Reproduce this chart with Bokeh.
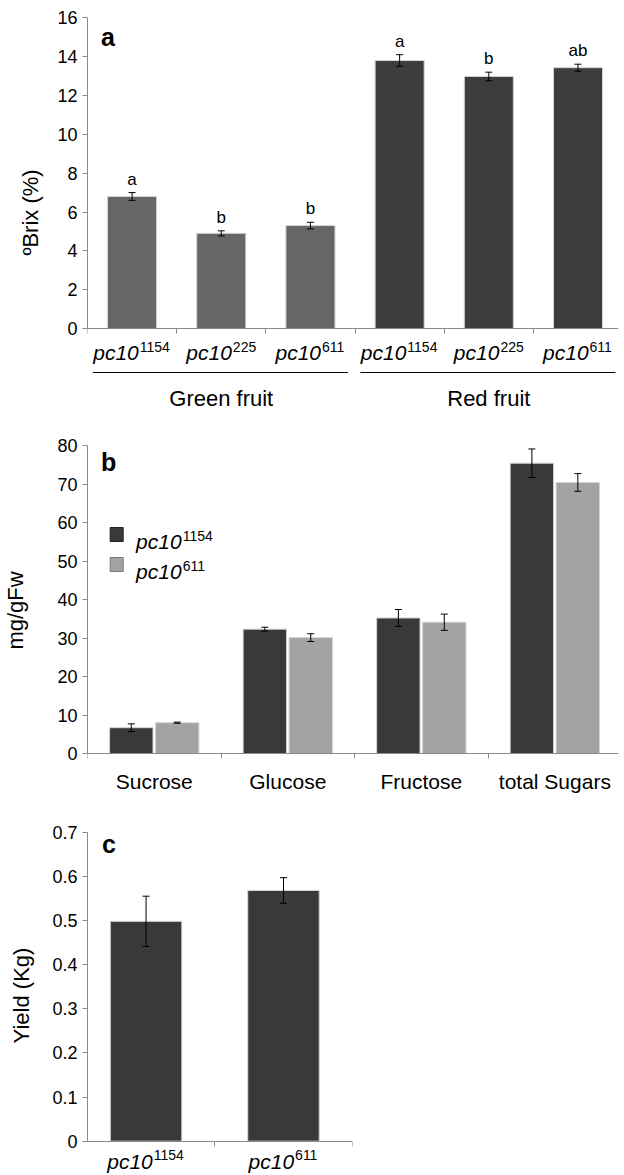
from bokeh.plotting import figure
from bokeh.models import ColumnDataSource, FixedTicker, LinearAxis, Range1d, Whisker, TeeHead
from bokeh.layouts import column
from bokeh.embed import file_html
from bokeh.resources import INLINE
from bokeh.core.properties import value

# ---------------- data ----------------
gene = "pc10"

brix_groups = ["Green fruit", "Red fruit"]
brix_alleles = ["1154", "225", "611", "1154", "225", "611"]
brix_group_index = [0, 0, 0, 1, 1, 1]
brix_values = [6.8, 4.9, 5.3, 13.8, 12.98, 13.43]
brix_errors = [0.2, 0.13, 0.17, 0.3, 0.22, 0.18]
brix_letters = ["a", "b", "b", "a", "b", "ab"]
brix_ticks = [0, 2, 4, 6, 8, 10, 12, 14, 16]

sugar_names = ["Sucrose", "Glucose", "Fructose", "total Sugars"]
sugar_1154 = [6.7, 32.3, 35.2, 75.4]
sugar_1154_err = [1.0, 0.5, 2.2, 3.7]
sugar_611 = [8.0, 30.1, 34.1, 70.4]
sugar_611_err = [0.15, 1.0, 2.1, 2.3]
sugar_ticks = [0, 10, 20, 30, 40, 50, 60, 70, 80]
legend_alleles = ["1154", "611"]

yield_alleles = ["1154", "611"]
yield_values = [0.498, 0.568]
yield_errors = [0.057, 0.029]
yield_ticks = [0, 0.1, 0.2, 0.3, 0.4, 0.5, 0.6, 0.7]
yield_tick_labels = ["0", "0.1", "0.2", "0.3", "0.4", "0.5", "0.6", "0.7"]

# ---------------- style ----------------
FONT = "Liberation Sans"
GRAY = "#8a8a8a"
EDGE = "#d4d4d4"
GREEN_FRUIT = "#666666"
RED_FRUIT = "#3d3d3d"
DARK = "#393939"
LIGHT = "#a3a3a3"
CAT_F = 21
SUP_F = 14
SUP_RISE = 6


def make_fig(width, height, xr, yr, left, top, right=0):
    p = figure(width=width, height=height, x_range=Range1d(*xr), y_range=Range1d(*yr),
               output_backend="svg", toolbar_location=None,
               x_axis_location=None, y_axis_location=None,
               min_border_left=left, min_border_top=top, min_border_right=right,
               min_border_bottom=0, background_fill_color="white",
               border_fill_color="white")
    p.outline_line_color = None
    p.xgrid.visible = False
    p.ygrid.visible = False
    return p


def add_yaxis(p, ticks, top, label, standoff, overrides=None):
    ax = LinearAxis(ticker=FixedTicker(ticks=ticks), bounds=(0, top), axis_label=label,
                    axis_label_standoff=standoff, axis_label_text_font=FONT,
                    axis_label_text_font_size="22px", axis_label_text_font_style="normal",
                    axis_label_text_color="black", major_label_text_font=FONT,
                    major_label_text_font_size="18px", major_label_text_color="black",
                    major_label_standoff=5, axis_line_color=GRAY, major_tick_line_color=GRAY,
                    major_tick_in=0, major_tick_out=5, minor_tick_line_color=None)
    if overrides:
        ax.major_label_overrides = overrides
    p.add_layout(ax, "left")


def add_xaxis(p, n):
    ax = LinearAxis(ticker=FixedTicker(ticks=list(range(n + 1))), fixed_location=0,
                    axis_line_color=GRAY, major_tick_line_color=GRAY, major_tick_in=0,
                    major_tick_out=5, minor_tick_line_color=None,
                    major_label_overrides={i: "" for i in range(n + 1)})
    p.add_layout(ax, "below")


def add_gene_labels(p, xs, ys, alleles, align="center"):
    main_w = 2.168 * CAT_F
    moff, soff = [], []
    for a in alleles:
        sup_w = 0.556 * SUP_F * len(a)
        total = main_w + 1 + sup_w
        start = -total / 2 if align == "center" else 0
        moff.append(start + main_w)
        soff.append(start + main_w + 1)
    n = len(xs)
    src = ColumnDataSource(dict(x=list(xs), y=list(ys), main=[gene] * n, sup=list(alleles),
                                moff=moff, soff=soff))
    p.text(x="x", y="y", text="main", x_offset="moff", text_align="right",
           text_baseline="alphabetic", text_font=value(FONT), text_font_style="italic",
           text_font_size=f"{CAT_F}px", text_color="black", source=src)
    p.text(x="x", y="y", text="sup", x_offset="soff", y_offset=-SUP_RISE, text_align="left",
           text_baseline="alphabetic", text_font=value(FONT), text_font_style="normal",
           text_font_size=f"{SUP_F}px", text_color="black", source=src)


def add_panel_letter(p, x, y, letter):
    p.text(x=[x], y=[y], text=[letter], text_align="left", text_baseline="alphabetic",
           text_font=value(FONT), text_font_style="bold", text_font_size="25px",
           text_color="black")


def add_whiskers(p, src):
    p.add_layout(Whisker(source=src, base="x", upper="upper", lower="lower",
                         level="overlay", line_color="black", line_width=1,
                         upper_head=TeeHead(size=7, line_color="black", line_width=1),
                         lower_head=TeeHead(size=7, line_color="black", line_width=1)))


# ================= panel a =================
A_W, A_H, A_LEFT, A_TOP = 624, 412, 78, 12
A_UNIT_X, A_UNIT_Y = 91.7, 19.42
a_top = 16 + 5.3 / A_UNIT_Y
pa = make_fig(A_W, A_H, (0, (A_W - A_LEFT) / A_UNIT_X),
              (a_top - (A_H - A_TOP) / A_UNIT_Y, a_top), A_LEFT, A_TOP)
ax_x = [i + 0.5 for i in range(len(brix_values))]
a_src = ColumnDataSource(dict(
    x=ax_x, top=brix_values,
    upper=[v + e for v, e in zip(brix_values, brix_errors)],
    lower=[v - e for v, e in zip(brix_values, brix_errors)],
    color=[[GREEN_FRUIT, RED_FRUIT][g] for g in brix_group_index],
    letter=brix_letters))
pa.vbar(x="x", top="top", width=0.55, bottom=0, fill_color="color", line_color=EDGE,
        line_width=1, source=a_src)
add_whiskers(pa, a_src)
pa.text(x="x", y="upper", text="letter", y_offset=-4, text_align="center",
        text_baseline="bottom", text_font=value(FONT), text_font_size="17px",
        text_color="black", source=a_src)
add_yaxis(pa, brix_ticks, 16, "ºBrix (%)", 11)
add_xaxis(pa, len(brix_values))
add_gene_labels(pa, ax_x, [-24 / A_UNIT_Y] * len(ax_x), brix_alleles)
n_per = [brix_group_index.count(g) for g in range(len(brix_groups))]
g_start = [sum(n_per[:g]) for g in range(len(brix_groups))]
pa.segment(x0=[s + 0.06 for s in g_start], x1=[s + n - 0.08 for s, n in zip(g_start, n_per)],
           y0=[-44 / A_UNIT_Y] * 2, y1=[-44 / A_UNIT_Y] * 2, line_color="black", line_width=1)
pa.text(x=[s + n / 2 for s, n in zip(g_start, n_per)], y=[-70 / A_UNIT_Y] * 2,
        text=brix_groups, text_align="center", text_baseline="alphabetic",
        text_font=value(FONT), text_font_size="22px", text_color="black")
add_panel_letter(pa, 14 / A_UNIT_X, 15.0, "a")

# ================= panel b =================
B_W, B_H, B_LEFT, B_TOP = 624, 383, 78, 13
B_UNIT_X, B_UNIT_Y = 137.3, 3.85
B_ZERO_DROP = 328          # px from frame top down to the zero line
b_top = B_ZERO_DROP / B_UNIT_Y
pb = make_fig(B_W, B_H, (0, (B_W - B_LEFT) / B_UNIT_X),
              (b_top - (B_H - B_TOP) / B_UNIT_Y, b_top), B_LEFT, B_TOP)
bx = [i + 0.5 for i in range(len(sugar_names))]
DODGE, BW = 0.172, 0.325
b1 = ColumnDataSource(dict(x=[x - DODGE for x in bx], top=sugar_1154,
                           upper=[v + e for v, e in zip(sugar_1154, sugar_1154_err)],
                           lower=[v - e for v, e in zip(sugar_1154, sugar_1154_err)]))
b2 = ColumnDataSource(dict(x=[x + DODGE for x in bx], top=sugar_611,
                           upper=[v + e for v, e in zip(sugar_611, sugar_611_err)],
                           lower=[v - e for v, e in zip(sugar_611, sugar_611_err)]))
pb.vbar(x="x", top="top", width=BW, bottom=0, fill_color=DARK, line_color=EDGE, source=b1)
pb.vbar(x="x", top="top", width=BW, bottom=0, fill_color=LIGHT, line_color=EDGE, source=b2)
add_whiskers(pb, b1)
add_whiskers(pb, b2)
add_yaxis(pb, sugar_ticks, 80, "mg/gFw", 26)
add_xaxis(pb, len(sugar_names))
pb.text(x=bx, y=[-28 / B_UNIT_Y] * len(bx), text=sugar_names, text_align="center",
        text_baseline="alphabetic", text_font=value(FONT), text_font_size="21px",
        text_color="black")
# legend
leg_x = 30 / B_UNIT_X
leg_y = [219 / B_UNIT_Y, 189 / B_UNIT_Y]
pb.rect(x=[leg_x] * 2, y=leg_y, width=13, height=14, width_units="screen",
        height_units="screen", fill_color=[DARK, LIGHT], line_color=["#222222", "#777777"])
add_gene_labels(pb, [50 / B_UNIT_X] * 2, [v - 7 / B_UNIT_Y for v in leg_y],
                legend_alleles, align="left")
add_panel_letter(pb, 14 / B_UNIT_X, 75.6, "b")

# ================= panel c =================
C_LEFT, C_TOP, C_H = 77, 20, 380
C_UNIT_X, C_UNIT_Y = 142.7, 441.4
c_x0, c_x1 = 0.074, 2.002
C_W = C_LEFT + int(round((c_x1 - c_x0) * C_UNIT_X)) + 6
c_top = 0.7 + 16.7 / C_UNIT_Y
pc = make_fig(C_W, C_H, (c_x0, c_x1), (c_top - (C_H - C_TOP) / C_UNIT_Y, c_top),
              C_LEFT, C_TOP, 6)
cx = [i + 0.5 for i in range(len(yield_values))]
c_src = ColumnDataSource(dict(x=cx, top=yield_values,
                              upper=[v + e for v, e in zip(yield_values, yield_errors)],
                              lower=[v - e for v, e in zip(yield_values, yield_errors)]))
pc.vbar(x="x", top="top", width=0.52, bottom=0, fill_color=DARK, line_color=EDGE, source=c_src)
add_whiskers(pc, c_src)
add_yaxis(pc, yield_ticks, 0.7, "Yield (Kg)", 15,
          overrides={t: l for t, l in zip(yield_ticks, yield_tick_labels)})
add_xaxis(pc, len(yield_values))
add_gene_labels(pc, cx, [-20 / C_UNIT_Y] * len(cx), yield_alleles)
add_panel_letter(pc, 15 / C_UNIT_X + c_x0, 0.674, "c")

layout = column(pa, pb, pc, spacing=0)
open("out.html", "w").write(file_html(layout, INLINE))
